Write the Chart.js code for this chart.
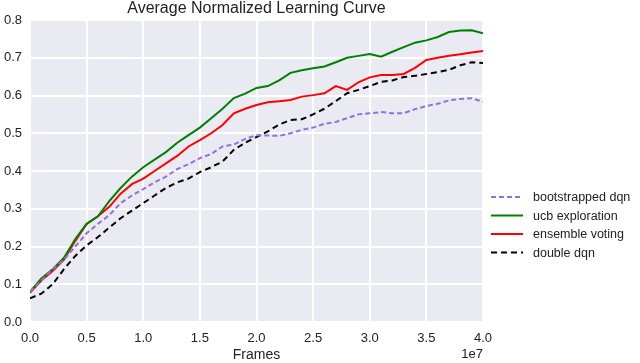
<!DOCTYPE html>
<html>
<head>
<meta charset="utf-8">
<script src="https://cdn.jsdelivr.net/npm/chart.js@4"></script>
<style>
  html, body { margin: 0; padding: 0; background: #fff; }
  #wrap { width: 640px; height: 363px; position: relative; }
</style>
</head>
<body>
<div id="wrap"><canvas id="curve"></canvas></div>
<script>
// frames in units of 1e7
const frames = [0.0, 0.1, 0.2, 0.3, 0.4, 0.5, 0.6, 0.7, 0.8, 0.9,
  1.0, 1.1, 1.2, 1.3, 1.4, 1.5, 1.6, 1.7, 1.8, 1.9,
  2.0, 2.1, 2.2, 2.3, 2.4, 2.5, 2.6, 2.7, 2.8, 2.9,
  3.0, 3.1, 3.2, 3.3, 3.4, 3.5, 3.6, 3.7, 3.8, 3.9, 4.0];

const bootstrapped = [0.08, 0.11, 0.14, 0.165, 0.2, 0.235, 0.26, 0.283, 0.315, 0.335,
  0.352, 0.37, 0.385, 0.405, 0.418, 0.434, 0.445, 0.465, 0.47, 0.485,
  0.495, 0.494, 0.493, 0.5, 0.509, 0.515, 0.525, 0.53, 0.54, 0.55,
  0.553, 0.556, 0.553, 0.553, 0.564, 0.572, 0.578, 0.587, 0.591, 0.593, 0.583];

const ucb = [0.08, 0.115, 0.14, 0.17, 0.22, 0.26, 0.28, 0.32, 0.355, 0.385,
  0.41, 0.43, 0.45, 0.475, 0.495, 0.515, 0.54, 0.565, 0.593, 0.605,
  0.62, 0.625, 0.64, 0.66, 0.667, 0.672, 0.677, 0.688, 0.7, 0.705,
  0.71, 0.703, 0.716, 0.728, 0.74, 0.746, 0.755, 0.768, 0.772, 0.773, 0.765];

const ensemble = [0.077, 0.11, 0.135, 0.165, 0.215, 0.26, 0.28, 0.305, 0.34, 0.365,
  0.38, 0.4, 0.42, 0.44, 0.465, 0.482, 0.5, 0.522, 0.553, 0.565,
  0.575, 0.582, 0.585, 0.588, 0.597, 0.601, 0.606, 0.625, 0.615, 0.635,
  0.648, 0.654, 0.654, 0.657, 0.673, 0.694, 0.7, 0.705, 0.709, 0.714, 0.718];

const doubleDqn = [0.063, 0.075, 0.1, 0.14, 0.175, 0.203, 0.225, 0.25, 0.275, 0.295,
  0.315, 0.335, 0.355, 0.37, 0.38, 0.397, 0.41, 0.425, 0.456, 0.475,
  0.49, 0.505, 0.523, 0.535, 0.537, 0.55, 0.565, 0.585, 0.606, 0.615,
  0.625, 0.636, 0.64, 0.649, 0.652, 0.657, 0.662, 0.668, 0.68, 0.688, 0.686];

const seriesNames = ["bootstrapped dqn", "ucb exploration", "ensemble voting", "double dqn"];

const FONT = "'Liberation Sans', Arial, sans-serif";
const TEXT = "#222222";
const toPts = (ys) => frames.map((f, i) => ({ x: f, y: ys[i] }));

// grey panel behind the plot (seaborn darkgrid look)
const panelBg = {
  id: "panelBg",
  beforeDraw(chart) {
    const { ctx, chartArea: a } = chart;
    ctx.save();
    ctx.fillStyle = "#EAEAF2";
    ctx.fillRect(a.left, a.top, a.right - a.left, a.bottom - a.top);
    ctx.restore();
  },
};

// title, axis label, offset text and legend
const extras = {
  id: "extras",
  afterDraw(chart) {
    const { ctx, chartArea: a } = chart;
    const cx = (a.left + a.right) / 2;
    ctx.save();
    ctx.fillStyle = TEXT;
    ctx.textAlign = "center";
    ctx.textBaseline = "middle";
    ctx.font = "16px " + FONT;
    ctx.fillText("Average Normalized Learning Curve", cx, 9);
    ctx.font = "14px " + FONT;
    ctx.fillText("Frames", cx, 355);
    ctx.textAlign = "right";
    ctx.font = "13px " + FONT;
    ctx.fillText("1e7", a.right, 354);

    // legend
    ctx.textAlign = "left";
    ctx.font = "12.5px " + FONT;
    chart.data.datasets.forEach((ds, i) => {
      const y = 197 + i * 18.5;
      ctx.beginPath();
      ctx.strokeStyle = ds.borderColor;
      ctx.lineWidth = 2;
      ctx.setLineDash(ds.borderDash || []);
      ctx.moveTo(491, y);
      ctx.lineTo(523, y);
      ctx.stroke();
      ctx.setLineDash([]);
      ctx.fillStyle = TEXT;
      ctx.fillText(ds.label, 533, y + 1);
    });
    ctx.restore();
  },
};

new Chart(document.getElementById("curve"), {
  type: "line",
  data: {
    datasets: [
      {
        label: seriesNames[0],
        data: toPts(bootstrapped),
        borderColor: "#9370DB",
        borderWidth: 2,
        borderDash: [5, 3],
      },
      {
        label: seriesNames[1],
        data: toPts(ucb),
        borderColor: "#008000",
        borderWidth: 2,
      },
      {
        label: seriesNames[2],
        data: toPts(ensemble),
        borderColor: "#FF0000",
        borderWidth: 2,
      },
      {
        label: seriesNames[3],
        data: toPts(doubleDqn),
        borderColor: "#000000",
        borderWidth: 2,
        borderDash: [6, 4],
      },
    ],
  },
  options: {
    responsive: true,
    maintainAspectRatio: false,
    animation: false,
    elements: { point: { radius: 0 }, line: { tension: 0 } },
    layout: { padding: { left: 0, right: 157, top: 20, bottom: 0 } },
    plugins: { legend: { display: false }, title: { display: false }, tooltip: { enabled: false } },
    scales: {
      x: {
        type: "linear",
        min: 0,
        max: 4,
        afterFit: (s) => { s.height = 41; },
        border: { display: false },
        grid: { color: "#FFFFFF", lineWidth: 2, drawTicks: false },
        ticks: {
          stepSize: 0.5,
          padding: 9,
          color: TEXT,
          font: { family: FONT, size: 13 },
          maxRotation: 0,
          callback: (v) => v.toFixed(1),
        },
      },
      y: {
        min: 0,
        max: 0.8,
        afterFit: (s) => { s.width = 30; },
        border: { display: false },
        grid: { color: "#FFFFFF", lineWidth: 2, drawTicks: false },
        ticks: {
          stepSize: 0.1,
          padding: 8,
          color: TEXT,
          font: { family: FONT, size: 13 },
          callback: (v) => v.toFixed(1),
        },
      },
    },
  },
  plugins: [panelBg, extras],
});
</script>
</body>
</html>
